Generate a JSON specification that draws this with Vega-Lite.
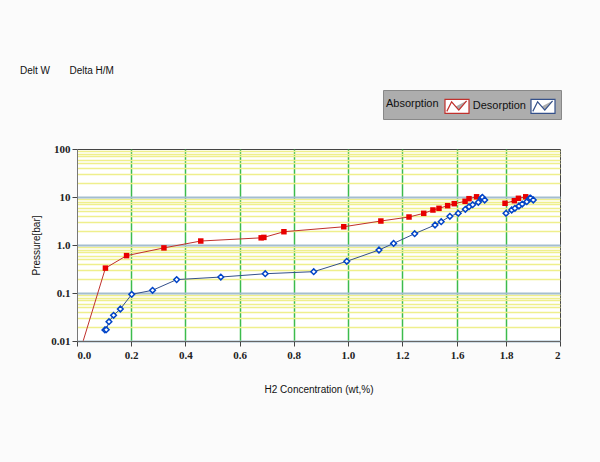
{
  "$schema": "https://vega.github.io/schema/vega-lite/v6.json",
  "autosize": "none",
  "padding": {"left": 77, "top": 149, "right": 40, "bottom": 121},
  "width": 483,
  "height": 192,
  "background": "#fbfbfb",
  "title": {
    "text": "Delt W\u00a0\u00a0\u00a0\u00a0\u00a0\u00a0\u00a0Delta H/M",
    "anchor": "start",
    "frame": "group",
    "dx": -57,
    "offset": 14,
    "font": "Liberation Sans",
    "fontSize": 10,
    "fontWeight": "normal",
    "color": "#111"
  },
  "config": {
    "view": {"stroke": "#444", "strokeWidth": 1, "fill": "#ffffff"},
    "axis": {
      "labelFont": "Liberation Serif",
      "labelFontSize": 11,
      "labelFontWeight": "bold",
      "labelColor": "#222",
      "titleFont": "Liberation Sans",
      "titleFontSize": 10,
      "titleFontWeight": "normal",
      "titleColor": "#111",
      "domainColor": "#666",
      "tickColor": "#444"
    }
  },
  "data": {
    "values": [
      {"series": "Absorption", "seg": "A1", "x": 0.023, "y": 0.0101},
      {"series": "Absorption", "seg": "A1", "x": 0.105, "y": 0.33},
      {"series": "Absorption", "seg": "A1", "x": 0.183, "y": 0.60},
      {"series": "Absorption", "seg": "A1", "x": 0.321, "y": 0.87},
      {"series": "Absorption", "seg": "A1", "x": 0.457, "y": 1.21},
      {"series": "Absorption", "seg": "A1", "x": 0.68, "y": 1.41},
      {"series": "Absorption", "seg": "A1", "x": 0.69, "y": 1.44},
      {"series": "Absorption", "seg": "A1", "x": 0.764, "y": 1.89},
      {"series": "Absorption", "seg": "A1", "x": 0.985, "y": 2.40},
      {"series": "Absorption", "seg": "A1", "x": 1.122, "y": 3.16},
      {"series": "Absorption", "seg": "A1", "x": 1.251, "y": 3.83},
      {"series": "Absorption", "seg": "A1", "x": 1.358, "y": 4.57},
      {"series": "Absorption", "seg": "A1", "x": 1.425, "y": 5.36},
      {"series": "Absorption", "seg": "A1", "x": 1.469, "y": 5.81},
      {"series": "Absorption", "seg": "A1", "x": 1.532, "y": 6.59},
      {"series": "Absorption", "seg": "A1", "x": 1.580, "y": 7.26},
      {"series": "Absorption", "seg": "A1", "x": 1.633, "y": 8.13},
      {"series": "Absorption", "seg": "A1", "x": 1.649, "y": 9.23},
      {"series": "Absorption", "seg": "A1", "x": 1.680, "y": 10.1},
      {"series": "Absorption", "seg": "A2", "x": 1.796, "y": 7.39},
      {"series": "Absorption", "seg": "A2", "x": 1.831, "y": 8.37},
      {"series": "Absorption", "seg": "A2", "x": 1.846, "y": 9.40},
      {"series": "Absorption", "seg": "A2", "x": 1.873, "y": 10.1},
      {"series": "Desorption", "seg": "D1", "x": 0.103, "y": 0.0170},
      {"series": "Desorption", "seg": "D1", "x": 0.108, "y": 0.0172},
      {"series": "Desorption", "seg": "D1", "x": 0.118, "y": 0.0252},
      {"series": "Desorption", "seg": "D1", "x": 0.135, "y": 0.0343},
      {"series": "Desorption", "seg": "D1", "x": 0.160, "y": 0.0464},
      {"series": "Desorption", "seg": "D1", "x": 0.202, "y": 0.0937},
      {"series": "Desorption", "seg": "D1", "x": 0.279, "y": 0.114},
      {"series": "Desorption", "seg": "D1", "x": 0.368, "y": 0.190},
      {"series": "Desorption", "seg": "D1", "x": 0.531, "y": 0.215},
      {"series": "Desorption", "seg": "D1", "x": 0.695, "y": 0.252},
      {"series": "Desorption", "seg": "D1", "x": 0.874, "y": 0.278},
      {"series": "Desorption", "seg": "D1", "x": 0.996, "y": 0.457},
      {"series": "Desorption", "seg": "D1", "x": 1.115, "y": 0.787},
      {"series": "Desorption", "seg": "D1", "x": 1.169, "y": 1.08},
      {"series": "Desorption", "seg": "D1", "x": 1.292, "y": 1.72},
      {"series": "Desorption", "seg": "D1", "x": 1.440, "y": 2.61},
      {"series": "Desorption", "seg": "D1", "x": 1.485, "y": 3.06},
      {"series": "Desorption", "seg": "D1", "x": 1.548, "y": 3.96},
      {"series": "Desorption", "seg": "D1", "x": 1.605, "y": 4.57},
      {"series": "Desorption", "seg": "D1", "x": 1.634, "y": 5.55},
      {"series": "Desorption", "seg": "D1", "x": 1.649, "y": 6.28},
      {"series": "Desorption", "seg": "D1", "x": 1.664, "y": 6.92},
      {"series": "Desorption", "seg": "D1", "x": 1.687, "y": 7.75},
      {"series": "Desorption", "seg": "D1", "x": 1.700, "y": 9.5},
      {"series": "Desorption", "seg": "D1", "x": 1.704, "y": 9.8},
      {"series": "Desorption", "seg": "D1", "x": 1.713, "y": 8.66},
      {"series": "Desorption", "seg": "D2", "x": 1.800, "y": 4.57},
      {"series": "Desorption", "seg": "D2", "x": 1.821, "y": 5.36},
      {"series": "Desorption", "seg": "D2", "x": 1.833, "y": 5.81},
      {"series": "Desorption", "seg": "D2", "x": 1.848, "y": 6.49},
      {"series": "Desorption", "seg": "D2", "x": 1.860, "y": 7.14},
      {"series": "Desorption", "seg": "D2", "x": 1.877, "y": 7.98},
      {"series": "Desorption", "seg": "D2", "x": 1.887, "y": 9.3},
      {"series": "Desorption", "seg": "D2", "x": 1.891, "y": 9.5},
      {"series": "Desorption", "seg": "D2", "x": 1.901, "y": 8.66}
    ]
  },
  "encoding": {
    "x": {
      "field": "x",
      "type": "quantitative",
      "scale": {"domain": [0, 1.2, 1.6, 1.8, 2], "range": [0, 325, 380, 429, 483], "nice": false, "zero": false},
      "axis": {
        "title": "H2 Concentration (wt,%)",
        "values": [0, 0.2, 0.4, 0.6, 0.8, 1.0, 1.2, 1.6, 1.8, 2],
        "labelExpr": "datum.value == 2 ? '2' : format(datum.value, '.1f')",
        "grid": true,
        "gridColor": "#3cbc4c",
        "gridWidth": 1.5,
        "gridOpacity": {"condition": {"test": "datum.value == 0 || datum.value == 2", "value": 0}, "value": 1},
        "tickSize": 5,
        "labelPadding": 3,
        "titlePadding": 24,
        "domain": true
      }
    },
    "y": {
      "field": "y",
      "type": "quantitative",
      "scale": {"type": "log", "domain": [0.01, 100], "nice": false},
      "axis": {
        "title": "Pressure[bar]",
        "values": [0.01, 0.02, 0.03, 0.04, 0.05, 0.06, 0.07, 0.08, 0.09, 0.1, 0.2, 0.3, 0.4, 0.5, 0.6, 0.7, 0.8, 0.9, 1, 2, 3, 4, 5, 6, 7, 8, 9, 10, 20, 30, 40, 50, 60, 70, 80, 90, 100],
        "labelExpr": "datum.value == 100 ? '100' : datum.value == 10 ? '10' : datum.value == 1 ? '1.0' : datum.value == 0.1 ? '0.1' : datum.value == 0.01 ? '0.01' : ''",
        "grid": true,
        "gridColor": {"condition": {"test": "indexof([0.01, 0.1, 1, 10, 100], datum.value) >= 0", "value": "#a4bed0"}, "value": "#efef8c"},
        "gridWidth": {"condition": {"test": "indexof([0.01, 0.1, 1, 10, 100], datum.value) >= 0", "value": 2}, "value": 1.5},
        "gridOpacity": {"condition": {"test": "datum.value == 100", "value": 0}, "value": 1},
        "tickOpacity": {"condition": {"test": "indexof([0.01, 0.1, 1, 10, 100], datum.value) >= 0", "value": 1}, "value": 0},
        "tickSize": 5,
        "labelPadding": 2,
        "titlePadding": 9,
        "labelOverlap": false,
        "domainColor": "#777"
      }
    }
  },
  "layer": [
    {
      "mark": {"type": "line", "strokeWidth": 1},
      "encoding": {
        "detail": {"field": "seg"},
        "color": {
          "field": "series",
          "type": "nominal",
          "scale": {"domain": ["Absorption", "Desorption"], "range": ["#c0302c", "#34508a"]},
          "legend": {
            "title": "Absorption",
            "titleOrient": "left",
            "titleColor": "#111",
            "titleFont": "Liberation Sans",
            "titleFontSize": 11,
            "titleFontWeight": "normal",
            "titleBaseline": "middle",
            "titleAnchor": "middle",
            "titlePadding": 5,
            "orient": "none",
            "legendX": 306,
            "legendY": -59,
            "direction": "horizontal",
            "fillColor": "#adadad",
            "strokeColor": "#888888",
            "padding": 3,
            "labelFont": "Liberation Sans",
            "labelFontSize": 11,
            "labelColor": "#111",
            "labelAlign": "right",
            "labelOffset": -30,
            "labelExpr": "datum.label == 'Absorption' ? '' : datum.label",
            "columnPadding": 0,
            "symbolType": "M-1,-0.58H1V0.58H-1Z M-0.85,0.42L-0.45,-0.38L0.15,0.32L0.8,-0.46",
            "symbolSize": 576,
            "symbolFillColor": "#ffffff",
            "symbolStrokeWidth": 1.2
          }
        }
      }
    },
    {
      "transform": [{"filter": "datum.series == 'Absorption' && datum.y > 0.0105"}],
      "mark": {"type": "point", "shape": "square", "filled": true, "size": 30, "color": "#e80000", "opacity": 1}
    },
    {
      "transform": [{"filter": "datum.series == 'Desorption'"}],
      "mark": {"type": "point", "shape": "diamond", "filled": false, "fill": "#ffffff", "size": 32, "strokeWidth": 1.5, "stroke": "#0044c8", "opacity": 1}
    }
  ]
}
